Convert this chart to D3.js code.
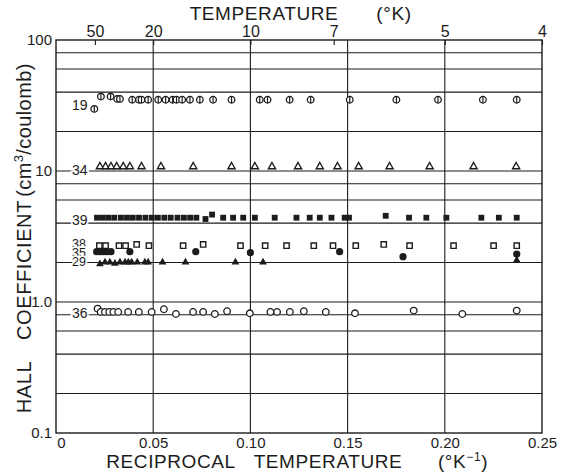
<!DOCTYPE html>
<html>
<head>
<meta charset="utf-8">
<script src="https://cdn.jsdelivr.net/npm/d3@7"></script>
<style>
  html, body { margin: 0; padding: 0; background: #fff; }
  svg { display: block; }
  text { font-family: "Liberation Sans", Arial, sans-serif; fill: #1c1c1c; }
</style>
</head>
<body>
<svg id="chart" width="564" height="474"></svg>
<script>
// Hall coefficient (cm^3/coulomb) against reciprocal temperature (1/K), one series per sample.
const s19 = [[0.0197,29.8],[0.0231,37],[0.0281,37],[0.0315,35.5],[0.0329,35.5],[0.0392,35],[0.0427,35],
  [0.0440,35],[0.0474,35],[0.0526,35],[0.0564,35],[0.0600,35],[0.0620,35],[0.0649,35],[0.0689,35],
  [0.0740,35],[0.0808,35],[0.0903,35],[0.1048,35],[0.1088,35],[0.1202,35],[0.1310,35],[0.1511,35],
  [0.1751,35],[0.1965,35],[0.2196,35],[0.2370,35]];
const s34 = [[0.0226,10.8],[0.0255,10.8],[0.0283,10.8],[0.0312,10.8],[0.0346,10.8],[0.0380,10.8],
  [0.0440,10.8],[0.0540,10.8],[0.0706,10.8],[0.0903,10.8],[0.1023,10.8],[0.1111,10.8],[0.1245,10.8],
  [0.1357,10.8],[0.1448,10.8],[0.1557,10.8],[0.1716,10.8],[0.1922,10.8],[0.2148,10.8],[0.2367,10.8]];
const s39 = [[0.0211,4.4],[0.0241,4.4],[0.0270,4.4],[0.0300,4.4],[0.0334,4.4],[0.0365,4.4],[0.0395,4.4],
  [0.0427,4.4],[0.0460,4.4],[0.0493,4.4],[0.0524,4.4],[0.0557,4.4],[0.0590,4.4],[0.0625,4.4],[0.0658,4.4],
  [0.0690,4.4],[0.0722,4.4],[0.0769,4.3],[0.0803,4.65],[0.0860,4.4],[0.0911,4.4],[0.0963,4.4],[0.1023,4.4],
  [0.1125,4.4],[0.1237,4.4],[0.1305,4.4],[0.1357,4.4],[0.1417,4.4],[0.1485,4.4],[0.1507,4.4],[0.1696,4.55],
  [0.1816,4.4],[0.1905,4.4],[0.2008,4.4],[0.2188,4.4],[0.2278,4.4],[0.2370,4.4]];
const s38 = [[0.0223,2.69],[0.0255,2.69],[0.0324,2.69],[0.0358,2.69],[0.0415,2.75],[0.0478,2.69],
  [0.0654,2.69],[0.0757,2.75],[0.0949,2.69],[0.1076,2.69],[0.1186,2.69],[0.1326,2.69],[0.1425,2.69],
  [0.1542,2.69],[0.1686,2.75],[0.1819,2.69],[0.2045,2.69],[0.2251,2.69],[0.2370,2.69]];
const s35 = [[0.0209,2.42],[0.0226,2.42],[0.0243,2.42],[0.0261,2.42],[0.0283,2.42],[0.0380,2.42],
  [0.0719,2.42],[0.1000,2.38],[0.1459,2.42],[0.1785,2.22],[0.2370,2.32]];
const s29 = [[0.0226,1.95],[0.0252,2.01],[0.0277,2.01],[0.0303,1.97],[0.0329,2.01],[0.0355,2.01],
  [0.0372,2.01],[0.0389,2.01],[0.0418,2.01],[0.0457,2.01],[0.0474,2.01],[0.0548,2.01],[0.0666,2.01],
  [0.0923,2.01],[0.1065,2.01],[0.2370,2.08]];
const s36 = [[0.0214,0.89],[0.0230,0.84],[0.0252,0.84],[0.0274,0.84],[0.0295,0.84],[0.0320,0.84],
  [0.0371,0.84],[0.0426,0.84],[0.0492,0.84],[0.0555,0.88],[0.0617,0.81],[0.0705,0.84],[0.0757,0.84],
  [0.0817,0.81],[0.0880,0.85],[0.0997,0.82],[0.1103,0.84],[0.1137,0.84],[0.1203,0.84],[0.1275,0.85],
  [0.1388,0.84],[0.1538,0.82],[0.1840,0.86],[0.2090,0.81],[0.2370,0.86]];

// Sample numbers and the level at which each is written
const sampleNames  = ["19", "34", "39", "36"];
const sampleLevels = [32, 10.2, 4.2, 0.82];
// the three samples crowded between 2 and 3 share one stacked label
const stackNames   = ["38", "35", "29"];
const stackTop     = 2.8;

// Axis tick values and labels
const xTicks      = [0, 0.05, 0.10, 0.15, 0.20, 0.25];
const xTickLabels = ["0", "0.05", "0.10", "0.15", "0.20", "0.25"];
const yTicks      = [0.1, 1, 10, 100];
const yTickLabels = ["0.1", "1.0", "10", "100"];
const tempTicks   = [50, 20, 10, 7, 5, 4];
const yGrid       = [0.2, 0.4, 0.6, 0.8, 2, 4, 6, 8, 20, 40, 60, 80, 1, 10];
const xGrid       = [0.05, 0.10, 0.15, 0.20];

const svg = d3.select("#chart");
const plotL = 56, plotR = 542, plotT = 40, plotB = 433;
const x = d3.scaleLinear().domain([0, 0.25]).range([plotL, plotR]);
const y = d3.scaleLog().domain([0.1, 100]).range([plotB, plotT]);
const ink = "#1c1c1c";
const face = "Liberation Sans, Arial, sans-serif";

// grid
const grid = svg.append("g").attr("stroke", ink).attr("stroke-width", 1.1);
grid.selectAll("line.h").data(yGrid).join("line").attr("class", "h")
  .attr("x1", plotL).attr("x2", plotR).attr("y1", d => y(d)).attr("y2", d => y(d));
grid.selectAll("line.v").data(xGrid).join("line").attr("class", "v")
  .attr("x1", d => x(d)).attr("x2", d => x(d)).attr("y1", plotT).attr("y2", plotB);
svg.append("rect").attr("x", plotL).attr("y", plotT).attr("width", plotR - plotL).attr("height", plotB - plotT)
  .attr("fill", "none").attr("stroke", ink).attr("stroke-width", 1.4);

// left axis
const yAxis = svg.append("g").attr("transform", `translate(${plotL},0)`)
  .call(d3.axisLeft(y).tickValues(yTicks).tickSize(0).tickPadding(4)
    .tickFormat((d, i) => yTickLabels[i]));
yAxis.select(".domain").remove();
yAxis.selectAll("text").attr("font-size", 15).attr("fill", ink).attr("font-family", face);

// bottom axis
const xAxis = svg.append("g").attr("transform", `translate(0,${plotB})`)
  .call(d3.axisBottom(x).tickValues(xTicks).tickSize(0).tickPadding(4)
    .tickFormat((d, i) => xTickLabels[i]));
xAxis.select(".domain").remove();
xAxis.selectAll("text").attr("font-size", 15).attr("fill", ink).attr("font-family", face)
  .attr("dx", d => d === 0 ? 5 : 0);

// top temperature axis, placed at 1/T
const tAxis = svg.append("g").attr("transform", `translate(0,${plotT})`)
  .call(d3.axisTop(x).tickValues(tempTicks.map(t => 1 / t)).tickSizeInner(-5).tickSizeOuter(0)
    .tickPadding(3).tickFormat((d, i) => String(tempTicks[i])));
tAxis.select(".domain").remove();
tAxis.selectAll("line").attr("stroke", ink).attr("stroke-width", 1.1);
tAxis.selectAll("text").attr("font-size", 16).attr("fill", ink).attr("font-family", face);

// titles
const title = (txt, tx, ty, size, rot) => svg.append("text")
  .attr("transform", `translate(${tx},${ty})` + (rot ? ` rotate(${rot})` : ""))
  .attr("text-anchor", "middle").attr("font-size", size).attr("letter-spacing", 0.6).text(txt);
title("TEMPERATURE", 264, 20, 19);
title("(°K)", 394, 20, 19);
title("RECIPROCAL", 171, 468, 19);
title("TEMPERATURE", 328, 468, 19);
const recip = svg.append("text").attr("x", 463).attr("y", 468).attr("text-anchor", "middle")
  .attr("font-size", 19).attr("letter-spacing", 0.6);
recip.append("tspan").text("(°K");
recip.append("tspan").attr("dy", -7).attr("font-size", 12).text("−1");
recip.append("tspan").attr("dy", 7).text(")");
title("HALL", 31, 387, 20, -90);
title("COEFFICIENT", 31, 270, 20, -90);
const unit = svg.append("text").attr("transform", "translate(31,130) rotate(-90)")
  .attr("text-anchor", "middle").attr("font-size", 20).attr("letter-spacing", 0.4);
unit.append("tspan").text("(cm");
unit.append("tspan").attr("dy", -8).attr("font-size", 13).text("3");
unit.append("tspan").attr("dy", 8).text("/coulomb)");

// sample labels, knocked out of the grid lines
svg.append("g").selectAll("text").data(sampleNames).join("text")
  .attr("x", 72).attr("y", (d, i) => y(sampleLevels[i]))
  .attr("dy", "0.36em").attr("font-size", 14)
  .attr("stroke", "#fff").attr("stroke-width", 3.5).attr("paint-order", "stroke")
  .text(d => d);
const stack = svg.append("text").attr("x", 72).attr("y", y(stackTop))
  .attr("font-size", 12.5).attr("stroke", "#fff").attr("stroke-width", 3.5).attr("paint-order", "stroke");
stack.selectAll("tspan").data(stackNames).join("tspan")
  .attr("x", 72).attr("dy", (d, i) => i === 0 ? "0.36em" : 9.2).text(d => d);

// markers
const marks = svg.append("g");
const sym = (type, area) => d3.symbol().type(type).size(area)();
function plot(data, draw) {
  const g = marks.append("g");
  data.forEach(d => {
    const p = g.append("g").attr("transform", `translate(${x(d[0])},${y(d[1])})`);
    draw(p);
  });
}
plot(s19, p => {
  p.append("circle").attr("r", 3.3).attr("fill", "#fff").attr("stroke", ink).attr("stroke-width", 1.3);
  p.append("line").attr("y1", -3.3).attr("y2", 3.3).attr("stroke", ink).attr("stroke-width", 1.2);
});
plot(s34, p => p.append("path").attr("d", sym(d3.symbolTriangle, 22))
  .attr("fill", "#fff").attr("stroke", ink).attr("stroke-width", 1.4));
plot(s39, p => p.append("path").attr("d", sym(d3.symbolSquare, 34)).attr("fill", ink));
plot(s38, p => p.append("path").attr("d", sym(d3.symbolSquare, 28))
  .attr("fill", "#fff").attr("stroke", ink).attr("stroke-width", 1.4));
plot(s29, p => p.append("path").attr("d", sym(d3.symbolTriangle, 26)).attr("fill", ink));
plot(s35, p => p.append("circle").attr("r", 3.6).attr("fill", ink));
plot(s36, p => p.append("circle").attr("r", 3.3).attr("fill", "#fff").attr("stroke", ink).attr("stroke-width", 1.3));
</script>
</body>
</html>
